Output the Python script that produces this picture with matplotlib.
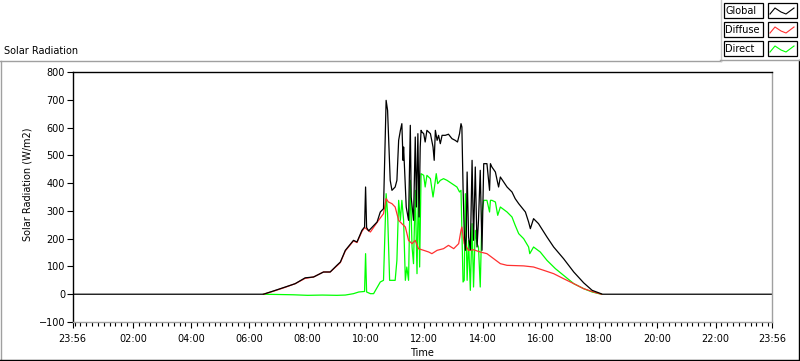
import numpy as np
import matplotlib.pyplot as plt
from matplotlib.lines import Line2D
from matplotlib.patches import Rectangle

# time in hours since midnight (23:56 of previous day = -4/60)
global_t = [-4/60, 6.48, 6.83, 7.23, 7.57, 7.91, 8.20, 8.54, 8.77, 9.00, 9.12, 9.29, 9.57, 9.69,
            9.86, 9.95, 9.985, 10.02, 10.09, 10.38, 10.49, 10.60, 10.69, 10.74, 10.83, 10.89,
            11.00, 11.06, 11.12, 11.18, 11.23, 11.27, 11.29, 11.32, 11.38, 11.46, 11.52, 11.55,
            11.63, 11.69, 11.73, 11.78, 11.82, 11.86, 11.89, 11.92, 11.98, 12.03, 12.09, 12.21,
            12.30, 12.34, 12.38, 12.44, 12.49, 12.55, 12.61, 12.72, 12.83, 12.95, 13.06, 13.14,
            13.21, 13.26, 13.29, 13.33, 13.37, 13.41, 13.44, 13.47, 13.52, 13.58, 13.64, 13.69,
            13.75, 13.81, 13.86, 13.92, 13.98, 14.04, 14.15, 14.24, 14.27, 14.32, 14.44, 14.50,
            14.55, 14.61, 14.84, 15.01, 15.12, 15.24, 15.47, 15.58, 15.64, 15.75, 15.92, 16.21,
            16.44, 16.78, 17.13, 17.47, 17.76, 18.04, 18.11, 24 - 4/60]
global_v = [0, 0, 12, 26, 38, 59, 62, 80, 80, 104, 116, 158, 194, 188,
            230, 242, 386, 240, 228, 260, 296, 308, 698, 662, 410, 374,
            386, 410, 554, 590, 614, 482, 530, 458, 314, 266, 608, 350,
            266, 566, 314, 578, 278, 530, 590, 584, 578, 548, 590, 578,
            530, 482, 590, 554, 572, 542, 572, 572, 576, 560, 554, 548,
            578, 614, 602, 386, 230, 158, 206, 440, 206, 160, 482, 194,
            458, 170, 266, 446, 158, 470, 470, 374, 470, 458, 440, 410,
            386, 422, 386, 368, 344, 326, 296, 260, 236, 272, 254, 206,
            170, 128, 80, 41, 14, 3, 0, 0]

diffuse_t = [6.48, 6.83, 7.23, 7.57, 7.91, 8.20, 8.54, 8.77, 9.00, 9.12, 9.29, 9.57, 9.69,
             9.86, 9.95, 10.15, 10.43, 10.60, 10.69, 10.77, 10.89, 11.00, 11.12, 11.23, 11.35,
             11.46, 11.58, 11.69, 11.80, 11.98, 12.15, 12.26, 12.44, 12.66, 12.83, 13.01, 13.18,
             13.26, 13.29, 13.37, 13.52, 13.69, 13.92, 14.15, 14.38, 14.61, 14.84, 15.41, 15.75,
             16.10, 16.44, 16.78, 17.13, 17.47, 17.81, 18.08]
diffuse_v = [0, 11, 25, 38, 57, 62, 80, 80, 102, 114, 156, 192, 186,
             226, 240, 224, 266, 290, 344, 332, 326, 314, 266, 254, 242,
             194, 182, 194, 164, 158, 152, 146, 158, 164, 176, 164, 182,
             230, 242, 182, 158, 160, 152, 146, 128, 110, 104, 102, 98,
             86, 74, 56, 38, 20, 8, 0]

direct_t = [6.48, 7.0, 7.5, 8.0, 8.5, 9.0, 9.29, 9.57, 9.75, 9.95, 9.985, 10.02, 10.15, 10.26,
            10.49, 10.60, 10.69, 10.74, 10.81, 10.89, 11.00, 11.06, 11.12, 11.18, 11.23, 11.29,
            11.35, 11.40, 11.46, 11.52, 11.58, 11.63, 11.69, 11.75, 11.80, 11.84, 11.89, 11.98,
            12.03, 12.09, 12.21, 12.30, 12.35, 12.41, 12.46, 12.55, 12.66, 12.78, 12.95, 13.12,
            13.21, 13.26, 13.29, 13.33, 13.37, 13.41, 13.47, 13.52, 13.58, 13.64, 13.69, 13.75,
            13.81, 13.86, 13.92, 13.98, 14.04, 14.15, 14.24, 14.27, 14.32, 14.44, 14.52, 14.61,
            14.84, 15.01, 15.12, 15.24, 15.41, 15.58, 15.62, 15.75, 15.98, 16.21, 16.50, 16.78,
            17.13, 17.47, 17.76, 18.08]
direct_v = [0, -1, -2, -4, -3, -4, -3, 2, 8, 10, 146, 8, 2, 2,
            44, 50, 362, 290, 50, 50, 50, 122, 338, 266, 338, 266,
            50, 98, 50, 410, 170, 110, 374, 74, 410, 98, 434, 428,
            386, 428, 416, 350, 386, 434, 398, 410, 416, 410, 398, 386,
            368, 374, 230, 44, 50, 362, 50, 194, 14, 254, 26, 230,
            182, 170, 26, 290, 338, 338, 296, 338, 338, 332, 284, 314,
            296, 278, 248, 218, 200, 170, 146, 170, 152, 122, 92, 68,
            38, 20, 8, 0]

W, H = 800, 361
fig = plt.figure(figsize=(W / 100, H / 100), dpi=100)
fig.patch.set_facecolor('white')
plt.rcParams['font.family'] = 'DejaVu Sans'

def px(x0, y0, w, h):
    return [x0 / W, 1 - (y0 + h) / H, w / W, h / H]

ax = fig.add_axes(px(72.7, 72, 699.3, 250))
ax.plot(direct_t, direct_v, color='#00ff00', lw=0.9)
ax.plot(diffuse_t, diffuse_v, color='#ff3030', lw=0.9)
ax.plot(global_t, global_v, color='black', lw=0.9)

ax.set_xlim(-4/60, 24 - 4/60)
ax.set_ylim(-100, 800)
ax.set_yticks(np.arange(-100, 801, 100))
xt = [-4/60] + list(range(2, 23, 2)) + [24 - 4/60]
xl = ['23:56'] + ['%02d:00' % h for h in range(2, 23, 2)] + ['23:56']
ax.set_xticks(xt)
ax.set_xticklabels(xl)
ax.set_xticks(np.arange(0, 24, 0.2), minor=True)
ax.tick_params(axis='both', labelsize=7, colors='black')
ax.tick_params(axis='x', which='major', length=4.5, width=0.8, pad=4)
ax.tick_params(axis='x', which='minor', length=3, width=0.8)
ax.tick_params(axis='y', length=4, width=0.8, pad=1.5)
ax.spines['left'].set_color('black')
ax.spines['top'].set_color('black')
ax.spines['right'].set_color('#a0a0a0')
ax.spines['bottom'].set_color('#a0a0a0')
for s in ax.spines.values():
    s.set_linewidth(1.0)
ax.set_xlabel('Time', fontsize=7, labelpad=3)
ax.set_ylabel('Solar Radiation (W/m2)', fontsize=7)
ax.yaxis.set_label_coords(-0.057, 0.55)

fig.text(4 / W, 1 - 51 / H, 'Solar Radiation', fontsize=7, va='center', ha='left')

def hline(x0, x1, y, c, lw=1.0):
    fig.add_artist(Line2D([x0 / W, x1 / W], [1 - y / H, 1 - y / H], color=c, lw=lw))

def vline(x, y0, y1, c, lw=1.0):
    fig.add_artist(Line2D([x / W, x / W], [1 - y0 / H, 1 - y1 / H], color=c, lw=lw))

# panel frame
hline(0, 721, 61, '#a0a0a0')
vline(0.5, 61, 360, '#a0a0a0')
hline(0, 800, 359.5, 'black')
vline(798.5, 60, 360, 'black')
vline(720.5, 0, 61, '#c8c8c8')
hline(720, 799, 60, '#a0a0a0')

# legend
names = ['Global', 'Diffuse', 'Direct']
colors = ['black', '#ff3030', '#00ff00']
tops = [3, 22, 41]
for name, c, top in zip(names, colors, tops):
    fig.add_artist(Rectangle((724 / W, 1 - (top + 15) / H), 39 / W, 15 / H,
                             transform=fig.transFigure, fill=False, ec='black', lw=0.9))
    fig.text(725.5 / W, 1 - (top + 8) / H, name, fontsize=7, va='center', ha='left')
    fig.add_artist(Rectangle((767.5 / W, 1 - (top + 15) / H), 29.5 / W, 15 / H,
                             transform=fig.transFigure, fill=False, ec='black', lw=0.9))
    sx = np.array([770, 775, 781, 786, 794])
    sy = np.array([top + 11, top + 5, top + 9, top + 11, top + 5])
    fig.add_artist(Line2D(sx / W, 1 - sy / H, color=c, lw=0.8))

fig.savefig('out.png', dpi=100)
